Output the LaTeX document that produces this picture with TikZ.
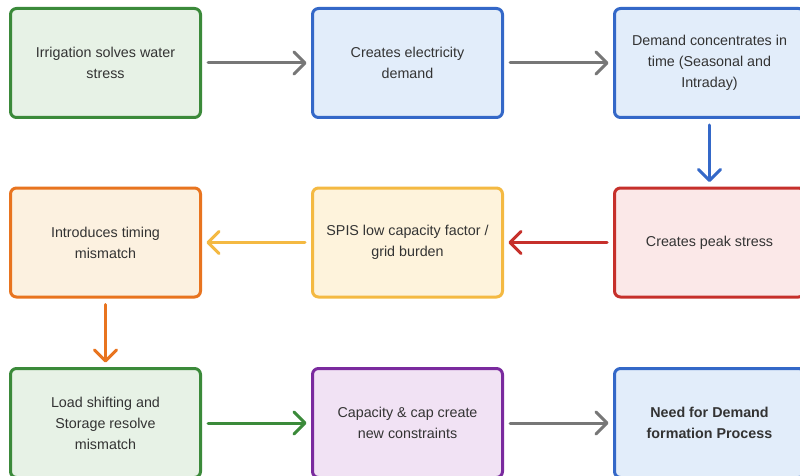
\documentclass[tikz,border=0pt]{standalone}
\usepackage{fontspec}
\setmainfont{Liberation Sans}
\usetikzlibrary{arrows.meta}
\definecolor{txt}{HTML}{333333}
\definecolor{gB}{HTML}{3B8A3A}\definecolor{gF}{HTML}{E7F2E6}
\definecolor{bB}{HTML}{3468C8}\definecolor{bF}{HTML}{E2EDFA}
\definecolor{rB}{HTML}{C6302B}\definecolor{rF}{HTML}{FBE8E8}
\definecolor{yB}{HTML}{F4B942}\definecolor{yF}{HTML}{FEF3DC}
\definecolor{oB}{HTML}{E8741F}\definecolor{oF}{HTML}{FCF1E0}
\definecolor{pB}{HTML}{7A2A9E}\definecolor{pF}{HTML}{F1E2F4}
\definecolor{gray}{HTML}{777777}
\tikzset{
  box/.style={draw=#1B, fill=#1F, line width=3pt, rounded corners=6pt,
    minimum width=190pt, minimum height=109pt, inner sep=0pt,
    align=center, text=txt, font=\fontsize{14.3}{21}\selectfont},
  arr/.style={draw=#1, line width=3pt, line cap=round,
    -{Straight Barb[length=11pt,width=22pt,round]},
    shorten <=6pt, shorten >=4.5pt},
}
\begin{document}
\begin{tikzpicture}[x=1pt,y=-1pt]
\clip (0,0) rectangle (800,476);
\fill[white] (0,0) rectangle (800,476);
\node[box=g] (a) at (105.5,63) {Irrigation solves water\\stress};
\node[box=b] (b) at (407.5,63) {Creates electricity\\demand};
\node[box=b] (c) at (709.5,63) {Demand concentrates in\\time (Seasonal and\\Intraday)};
\node[box=r] (d) at (709.5,242.5) {Creates peak stress};
\node[box=y] (e) at (407.5,242.5) {SPIS low capacity factor /\\grid burden};
\node[box=o] (f) at (105.5,242.5) {Introduces timing\\mismatch};
\node[box=g] (g) at (105.5,423) {Load shifting and\\Storage resolve\\mismatch};
\node[box=p] (h) at (407.5,423) {Capacity \& cap create\\new constraints};
\node[box=b, font=\fontsize{14.3}{21}\selectfont\bfseries] (i) at (709.5,423) {Need for Demand\\formation Process};
\draw[arr=gray] (a.east) -- (b.west);
\draw[arr=gray] (b.east) -- (c.west);
\draw[arr=bB] (c.south) -- (d.north);
\draw[arr=rB] (d.west) -- (e.east);
\draw[arr=yB] (e.west) -- (f.east);
\draw[arr=oB] (f.south) -- (g.north);
\draw[arr=gB] (g.east) -- (h.west);
\draw[arr=gray] (h.east) -- (i.west);
\end{tikzpicture}
\end{document}
